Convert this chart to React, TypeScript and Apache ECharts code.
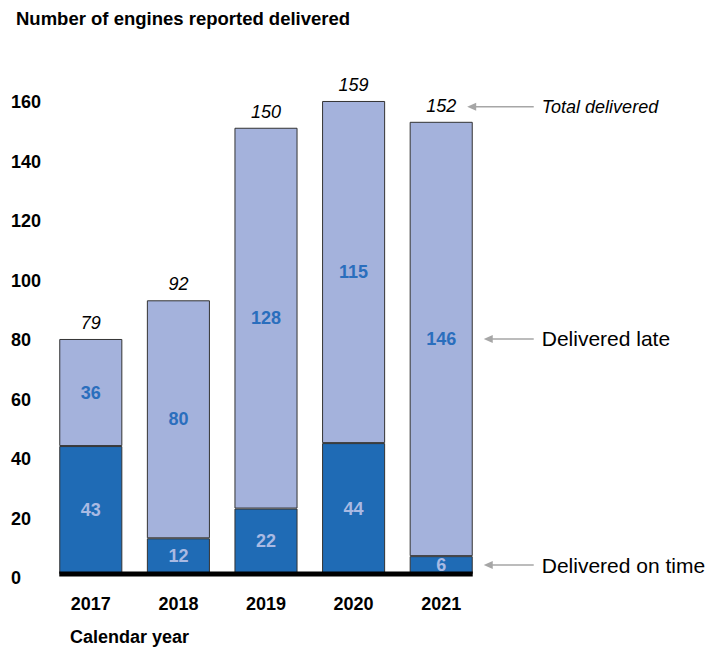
import React, { useEffect, useRef } from "react";
import * as echarts from "echarts";

const years = ["2017", "2018", "2019", "2020", "2021"];
const onTime = [43, 12, 22, 44, 6];
const late = [36, 80, 128, 115, 146];
const totals = [79, 92, 150, 159, 152];
const yMax = 160;
const yStep = 20;

const FONT = '"Liberation Sans", Arial, sans-serif';
const DARK = "#1f6bb5";
const LIGHT = "#a4b2dc";
const ARROW = "#a6a6a6";
const GAP = 0.28;

export default function App() {
  const ref = useRef<HTMLDivElement>(null);
  useEffect(() => {
    if (!ref.current) return;
    const chart = echarts.init(ref.current, null, { renderer: "svg" });
    const option: any = {
      animation: false,
      backgroundColor: "#fff",
      textStyle: { fontFamily: FONT },
      title: {
        text: "Number of engines reported delivered",
        left: 11,
        top: 4,
        textStyle: { fontFamily: FONT, fontSize: 18.5, fontWeight: "bold", color: "#000" },
      },
      grid: { left: 47, right: 221, top: 98, bottom: 75 },
      xAxis: {
        type: "category",
        data: years,
        axisLine: { show: false },
        axisTick: { show: false },
        axisLabel: { margin: 21, fontFamily: FONT, fontSize: 18, fontWeight: "bold", color: "#000" },
      },
      yAxis: {
        type: "value",
        min: 0,
        max: yMax,
        interval: yStep,
        splitLine: { show: false },
        axisLine: { show: false },
        axisTick: { show: false },
        axisLabel: {
          align: "left",
          verticalAlign: "top",
          lineHeight: 8,
          margin: 36,
          fontFamily: FONT,
          fontSize: 18,
          fontWeight: "bold",
          color: "#000",
        },
      },
      series: [
        {
          name: "Delivered on time",
          type: "bar",
          stack: "a",
          data: onTime,
          barCategoryGap: GAP * 100 + "%",
          itemStyle: { color: DARK, borderColor: "#333", borderWidth: 1 },
          label: {
            show: true,
            position: "inside",
            color: "#a9bae3",
            fontFamily: FONT,
            fontSize: 18,
            fontWeight: "bold",
          },
        },
        {
          name: "Delivered late",
          type: "bar",
          stack: "a",
          data: late,
          itemStyle: { color: LIGHT, borderColor: "#333", borderWidth: 1 },
          label: {
            show: true,
            position: "inside",
            color: "#2a6ebd",
            fontFamily: FONT,
            fontSize: 18,
            fontWeight: "bold",
          },
        },
        {
          name: "Total",
          type: "bar",
          stack: "a",
          data: totals.map(() => 0),
          itemStyle: { color: "transparent", borderWidth: 0 },
          label: {
            show: true,
            position: "top",
            distance: 7,
            formatter: (p: any) => String(totals[p.dataIndex]),
            color: "#000",
            fontFamily: FONT,
            fontSize: 18,
            fontStyle: "italic",
          },
        },
      ],
    };
    chart.setOption(option);

    const px = (i: number, v: number) => chart.convertToPixel({ gridIndex: 0 }, [i, v]) as number[];
    const last = years.length - 1;
    const band = px(1, 0)[0] - px(0, 0)[0];
    const barW = band * (1 - GAP);
    const c0 = px(0, 0)[0];
    const cl = px(last, 0)[0];
    const y0 = px(0, 0)[1];

    const arrow = (xTip: number, xEnd: number, y: number) => [
      { type: "line", shape: { x1: xTip + 6, y1: y, x2: xEnd, y2: y }, style: { stroke: ARROW, lineWidth: 1.5 }, z: 100 },
      {
        type: "polygon",
        shape: { points: [[xTip, y], [xTip + 9, y - 4], [xTip + 9, y + 4]] },
        style: { fill: ARROW },
        z: 100,
      },
    ];
    const textX = cl + barW / 2 + 69;
    const xEnd = cl + barW / 2 + 61;
    const yTotal = px(last, totals[last])[1] - 15;
    const yLate = px(last, onTime[last] + late[last] / 2)[1];
    const yOn = px(last, onTime[last] / 2)[1];
    const tip = cl + barW / 2 + 11;

    const label = (text: string, y: number, size: number, italic = false) => ({
      type: "text",
      x: textX,
      y,
      style: {
        text,
        fill: "#000",
        font: `${italic ? "italic " : ""}${size}px ${FONT}`,
        verticalAlign: "middle",
        align: "left",
      },
      z: 100,
    });

    chart.setOption({
      graphic: [
        { type: "line", shape: { x1: c0 - barW / 2, y1: y0, x2: cl + barW / 2, y2: y0 }, style: { stroke: "#000", lineWidth: 5 }, z: 100 },
        {
          type: "text",
          x: 70,
          y: 637,
          style: { text: "Calendar year", fill: "#000", font: `bold 18px ${FONT}`, verticalAlign: "middle", align: "left" },
          z: 100,
        },
        ...arrow(cl + 26, xEnd, yTotal),
        ...arrow(tip, xEnd, yLate),
        ...arrow(tip, xEnd, yOn),
        label("Total delivered", yTotal, 18, true),
        label("Delivered late", yLate, 21),
        label("Delivered on time", yOn, 21),
      ],
    });

    return () => chart.dispose();
  }, []);
  return <div ref={ref} style={{ position: "fixed", left: 0, top: 0, width: 706, height: 649 }} />;
}
